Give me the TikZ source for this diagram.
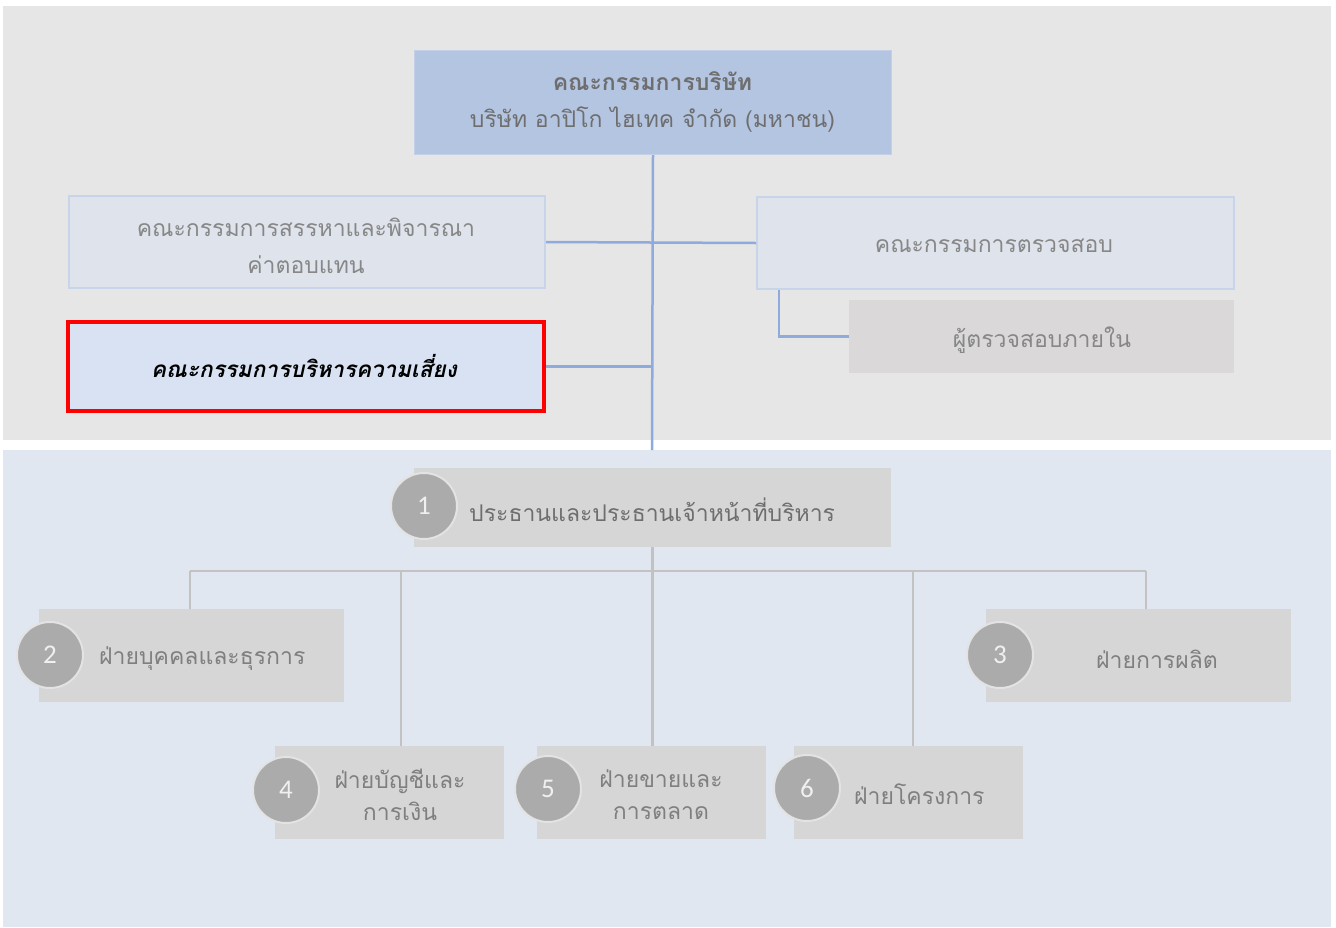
\documentclass[tikz,border=0pt]{standalone}
\usepackage{fontspec}
\newfontfamily\thai[Script=Thai]{Loma}
\newfontfamily\numf{Carlito}
\definecolor{toppanel}{HTML}{E6E6E6}
\definecolor{botpanel}{HTML}{E0E7F0}
\definecolor{boardfill}{HTML}{B4C5E2}
\definecolor{boardline}{HTML}{C3D0E8}
\definecolor{comfill}{HTML}{DEE3EC}
\definecolor{comline}{HTML}{C8D4EA}
\definecolor{riskfill}{HTML}{D9E2F3}
\definecolor{auditfill}{HTML}{DAD8D8}
\definecolor{blueline}{HTML}{8FAADC}
\definecolor{greybox}{HTML}{D6D6D6}
\definecolor{circfill}{HTML}{ABABAB}
\definecolor{circline}{HTML}{E3E3E3}
\definecolor{greyline}{HTML}{C2C2C2}
\definecolor{txtdark}{HTML}{6E6E6E}
\definecolor{txtlight}{HTML}{878787}
\definecolor{txtmid}{HTML}{7F7F7F}
\tikzset{
  box/.style={rectangle, inner sep=0pt, anchor=north west},
  committee/.style={box, fill=comfill, draw=comline, line width=2pt},
  dept/.style={box, fill=greybox},
  num/.style={circle, fill=circfill, draw=circline, line width=2pt, minimum size=66pt, inner sep=0pt, text=white!94!black, font=\numf\fontsize{27}{27}\selectfont},
  thaitxt/.style={font=\thai\fontsize{23}{37}\selectfont, align=center, inner sep=0pt},
  thaitight/.style={thaitxt, font=\thai\fontsize{23}{32}\selectfont},
  bline/.style={draw=blueline, line width=2.5pt},
  gline/.style={draw=greyline, line width=2.5pt},
}
\begin{document}
\begin{tikzpicture}[x=1pt,y=-1pt]
\useasboundingbox (0,0) rectangle (1336,927);
\fill[white] (0,0) rectangle (1336,927);
\fill[toppanel] (3,6) rectangle (1331,440);
\fill[botpanel] (3,450) rectangle (1331,927);

\coordinate (trunkend) at (652,450);
\coordinate (auditturn) at (779,290);

% top boxes
\node[box, fill=boardfill, draw=boardline, line width=1pt, minimum width=477pt, minimum height=104pt] (board) at (414,50) {};
\node[committee, minimum width=476pt, minimum height=92pt] (remun) at (68,195) {};
\node[box, fill=riskfill, draw=red, line width=4pt, minimum width=476pt, minimum height=89pt] (risk) at (66,320) {};
\node[committee, minimum width=477pt, minimum height=92pt] (audit) at (756,196) {};
\node[dept, fill=auditfill, minimum width=385pt, minimum height=73pt] (inaudit) at (849,300) {};

\draw[bline] (board.south) -- (trunkend);
\draw[bline] (remun.east) -- (audit.west);
\draw[bline] (risk.east) -- (risk.east -| board.south);
\draw[bline] (auditturn) |- (inaudit.west);

% texts top
\node[thaitxt, text=txtdark] (boardt) at (652.5,102) {{\bfseries คณะกรรมการบริษัท}\\บริษัท อาปิโก ไฮเทค จำกัด (มหาชน)};
\node[thaitxt, text=txtlight] (remunt) at (306,246) {คณะกรรมการสรรหาและพิจารณา\\ค่าตอบแทน};
\node[thaitxt, text=black, font=\thai\fontsize{22.5}{30}\selectfont\bfseries\itshape] (riskt) at (304,366) {คณะกรรมการบริหารความเสี่ยง};
\node[thaitxt, text=txtlight] (auditt) at (994,246) {คณะกรรมการตรวจสอบ};
\node[thaitxt, text=txtlight] (inauditt) at (1042,340) {ผู้ตรวจสอบภายใน};

% bottom boxes
\node[dept, minimum width=477pt, minimum height=79pt] (ceo) at (414,468) {};
\node[dept, minimum width=305pt, minimum height=93pt] (d2) at (39,609) {};
\node[dept, minimum width=305pt, minimum height=93pt] (d3) at (986,609) {};
\node[dept, minimum width=229pt, minimum height=93pt] (d4) at (275,746) {};
\node[dept, minimum width=229pt, minimum height=93pt] (d5) at (537,746) {};
\node[dept, minimum width=229pt, minimum height=93pt] (d6) at (794,746) {};

\coordinate (busL) at (190,571);
\coordinate (busR) at (1146,571);
\coordinate (bus4) at (401,571);
\coordinate (bus6) at (913,571);
\draw[gline] (busL) -- (busR);
\draw[gline] (ceo.south) -- (ceo.south |- d5.north);
\draw[gline] (busL) -- (busL |- d2.north);
\draw[gline] (busR) -- (busR |- d3.north);
\draw[gline] (bus4) -- (bus4 |- d4.north);
\draw[gline] (bus6) -- (bus6 |- d6.north);

% circles
\node[num] (c1) at (424,506) {1};
\node[num] (c2) at (50,655) {2};
\node[num] (c3) at (1000,655) {3};
\node[num] (c4) at (286,790) {4};
\node[num] (c5) at (548,789) {5};
\node[num] (c6) at (807,788) {6};

% bottom texts
\node[thaitxt, text=txtdark, anchor=west] (ceot) at (469,510) {ประธานและประธานเจ้าหน้าที่บริหาร};
\node[thaitxt, text=txtmid, anchor=west] (d2t) at (99,659) {ฝ่ายบุคคลและธุรการ};
\node[thaitxt, text=txtmid] (d3t) at (1157,659) {ฝ่ายการผลิต};
\node[thaitight, text=txtmid] (d4t) at (400,795) {ฝ่ายบัญชีและ\\การเงิน};
\node[thaitight, text=txtmid] (d5t) at (661,795) {ฝ่ายขายและ\\การตลาด};
\node[thaitxt, text=txtmid, anchor=west] (d6t) at (854,794) {ฝ่ายโครงการ};
\end{tikzpicture}
\end{document}
